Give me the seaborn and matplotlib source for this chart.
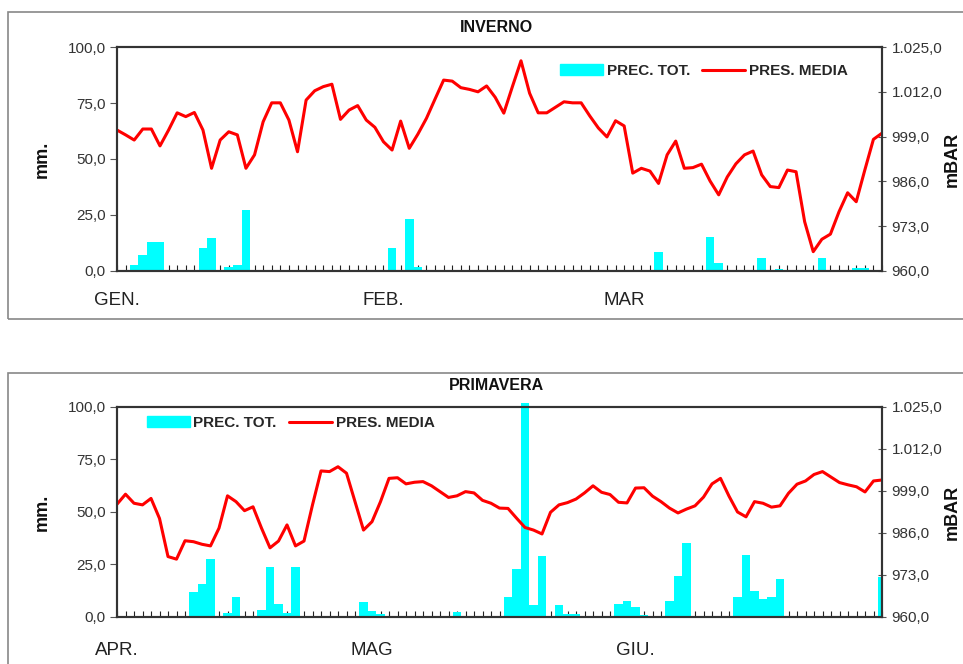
import numpy as np
import pandas as pd
import seaborn as sns
import matplotlib.pyplot as plt
from matplotlib.patches import Patch, Rectangle
from matplotlib.lines import Line2D
from matplotlib.ticker import FuncFormatter

# INVERNO (gen - mar), one value per day
inv_prec = [0, 0, 2.7, 7.1, 13.1, 12.8, 0, 0, 0, 0,
            10.1, 14.9, 0, 1.9, 2.7, 27.2, 0.3, 0, 0, 0,
            0, 0, 0, 0, 0, 0, 0, 0, 0, 0.3,
            0.3, 0, 10.1, 0, 23.2, 1.9, 0, 0, 0, 0,
            0, 0, 0, 0, 0, 0, 0, 0, 0, 0,
            0, 0, 0, 0, 0, 0, 0, 0, 0, 0,
            0, 0, 0, 8.6, 0, 0, 0, 0, 0.5, 15.3,
            3.7, 0, 0, 0, 0, 5.9, 0, 0.8, 0, 0,
            0, 0, 5.9, 0, 0, 0, 1.5, 1.5, 0, 0]
inv_pres = [1000.9, 999.5, 998.0, 1001.2, 1001.2, 996.3, 1000.9, 1005.9, 1004.8, 1006.0,
            1000.9, 989.8, 998.0, 1000.4, 999.5, 989.8, 993.7, 1003.3, 1008.8, 1008.8,
            1003.8, 994.6, 1009.6, 1012.3, 1013.5, 1014.2, 1004.0, 1006.7, 1008.0, 1003.8,
            1001.7, 997.5, 995.1, 1003.5, 995.6, 999.7, 1004.3, 1009.9, 1015.4, 1015.1,
            1013.2, 1012.7, 1012.0, 1013.7, 1010.4, 1005.8, 1013.5, 1021.0, 1011.6, 1005.9,
            1005.9, 1007.5, 1009.1, 1008.8, 1008.8, 1005.0, 1001.5, 998.9, 1003.6, 1002.1,
            988.4, 989.8, 989.0, 985.4, 993.7, 997.7, 989.8, 990.0, 991.0, 986.1,
            982.1, 987.3, 991.1, 993.7, 994.8, 987.9, 984.5, 984.2, 989.3, 988.8,
            974.3, 965.6, 969.2, 970.7, 977.2, 982.7, 980.1, 989.3, 998.2, 1000.0]
inv_month_pos = [0, 31, 59]
inv_months = ['GEN.', 'FEB.', 'MAR']

# PRIMAVERA (apr - giu)
pri_prec = [0, 0, 0, 0, 0, 0, 0.5, 0.5, 0, 12.0,
            15.6, 27.6, 0, 1.8, 9.7, 0, 0, 3.3, 24.0, 6.0,
            1.8, 24.0, 0, 0, 0, 0, 0, 0, 0.5, 7.0,
            2.9, 1.5, 0, 0, 0, 0, 0, 0, 0, 0,
            2.5, 0, 0, 0, 0, 0.5, 9.7, 22.9, 101.9, 5.7,
            29.2, 0, 5.7, 1.4, 1.4, 0, 0, 0, 0, 6.0,
            7.6, 4.9, 1.0, 0, 0, 7.6, 19.7, 35.4, 0, 0.5,
            0.5, 0, 0, 9.4, 29.5, 12.4, 8.4, 9.4, 17.9, 0,
            0, 0, 0, 0, 0, 0, 0, 0, 0, 0,
            19.2]
pri_pres = [994.9, 998.0, 995.2, 994.7, 996.7, 990.5, 978.7, 977.9, 983.6, 983.3,
            982.5, 982.0, 987.5, 997.5, 995.7, 992.9, 994.1, 987.5, 981.4, 983.5,
            988.5, 982.0, 983.5, 994.7, 1005.2, 1005.0, 1006.5, 1004.5, 995.7, 986.9,
            989.5, 995.7, 1002.9, 1003.1, 1001.2, 1001.7, 1001.9, 1000.6, 998.8, 997.0,
            997.5, 998.8, 998.4, 996.1, 995.2, 993.7, 993.6, 990.6, 987.7, 986.9,
            985.7, 992.4, 994.7, 995.4, 996.5, 998.4, 1000.6, 998.6, 997.9, 995.5,
            995.3, 999.9, 1000.0, 997.4, 995.7, 993.7, 992.2, 993.4, 994.4, 997.1,
            1001.2, 1002.9, 997.4, 992.5, 991.0, 995.7, 995.2, 994.0, 994.4, 998.3,
            1001.1, 1002.1, 1004.1, 1005.0, 1003.3, 1001.6, 1000.9, 1000.3, 998.7, 1002.1,
            1002.4]
pri_month_pos = [0, 30, 61]
pri_months = ['APR.', 'MAG', 'GIU.']

mm_ticks = [0, 25, 50, 75, 100]
mbar_ticks = [960, 973, 986, 999, 1012, 1025]

CYAN = '#00FFFF'
RED = '#FF0000'

sns.set_theme(style='white')
plt.rcParams['font.family'] = ['Liberation Sans', 'DejaVu Sans']

fig = plt.figure(figsize=(9.63, 6.64), dpi=100)


def fmt_mm(v, pos):
    return f'{v:.1f}'.replace('.', ',')


def fmt_mbar(v, pos):
    return f'{v:,.1f}'.replace(',', '#').replace('.', ',').replace('#', '.')


def draw_panel(rect, title, prec, pres, month_pos, months, title_y, leg_xy, xpad):
    n = len(prec)
    df = pd.DataFrame({'day': np.arange(n), 'prec': prec, 'pres': pres})
    ax = fig.add_axes(rect)
    sns.barplot(data=df, x='day', y='prec', color=CYAN, saturation=1,
                width=1.0, linewidth=0, ax=ax)
    for p in ax.patches:
        if p.get_height() > 100:
            p.set_clip_on(False)
    ax.set_ylim(0, 100)
    ax.set_yticks(mm_ticks)
    ax.yaxis.set_major_formatter(FuncFormatter(fmt_mm))
    ax.set_xlabel('')
    ax.set_ylabel('')

    ax2 = ax.twinx()
    sns.lineplot(data=df, x='day', y='pres', color=RED, linewidth=2.2, ax=ax2)
    ax2.set_ylim(960, 1025)
    ax2.set_yticks(mbar_ticks)
    ax2.yaxis.set_major_formatter(FuncFormatter(fmt_mbar))
    ax2.set_ylabel('')
    ax2.set_xlabel('')

    ax.set_xlim(0, n - 1)
    ax.set_xticks(month_pos)
    ax.set_xticklabels(months)
    ax.set_xticks(np.arange(n), minor=True)
    ax.tick_params(axis='x', which='both', direction='in', length=4, width=0.8,
                   color='#222', bottom=True, labelsize=13.5, pad=xpad, labelcolor='#222')
    ax.tick_params(axis='y', direction='out', length=5, width=0.8, color='#555',
                   left=True, labelsize=11, pad=3, labelcolor='#333')
    ax2.tick_params(axis='y', direction='inout', length=6, width=0.8, color='#555',
                    right=True, labelsize=11, pad=4, labelcolor='#333')
    for a in (ax, ax2):
        for s in a.spines.values():
            s.set_color('#333')
            s.set_linewidth(1.5)
        a.grid(False)

    handles = [Patch(color=CYAN, label='PREC. TOT.'),
               Line2D([], [], color=RED, lw=2.2, label='PRES. MEDIA')]
    ax2.legend(handles=handles, loc='center left', bbox_to_anchor=leg_xy, ncol=2,
               frameon=False, borderpad=0, borderaxespad=0, handlelength=2.8,
               handletextpad=0.25, columnspacing=0.8,
               prop={'weight': 'bold', 'size': 11})

    fig.text(0.516, title_y, title, ha='center', va='center',
             fontsize=11.5, fontweight='bold', color='#111')
    mid = rect[1] + rect[3] / 2
    fig.text(0.044, mid, 'mm.', rotation=90, ha='center', va='center',
             fontsize=13, fontweight='bold', color='#111')
    fig.text(0.998, mid, 'mBAR', rotation=90, ha='right', va='center',
             fontsize=13, fontweight='bold', color='#111')
    return ax


draw_panel([0.1215, 0.5919, 0.7944, 0.3373], 'INVERNO', inv_prec, inv_pres,
           inv_month_pos, inv_months, 0.958, (0.579, 0.893), 15)
draw_panel([0.1215, 0.0708, 0.7944, 0.3163], 'PRIMAVERA', pri_prec, pri_pres,
           pri_month_pos, pri_months, 0.4187, (0.039, 0.924), 18)

# chart-area frames (cut off on the right in the original)
fig.patches.append(Rectangle((0.0083, 0.5196), 1.1, 0.4624, transform=fig.transFigure,
                             fill=False, edgecolor='#888', lw=1.2))
fig.patches.append(Rectangle((0.0083, -0.1), 1.1, 0.5387, transform=fig.transFigure,
                             fill=False, edgecolor='#888', lw=1.2))

fig.savefig('out.png', dpi=100)
